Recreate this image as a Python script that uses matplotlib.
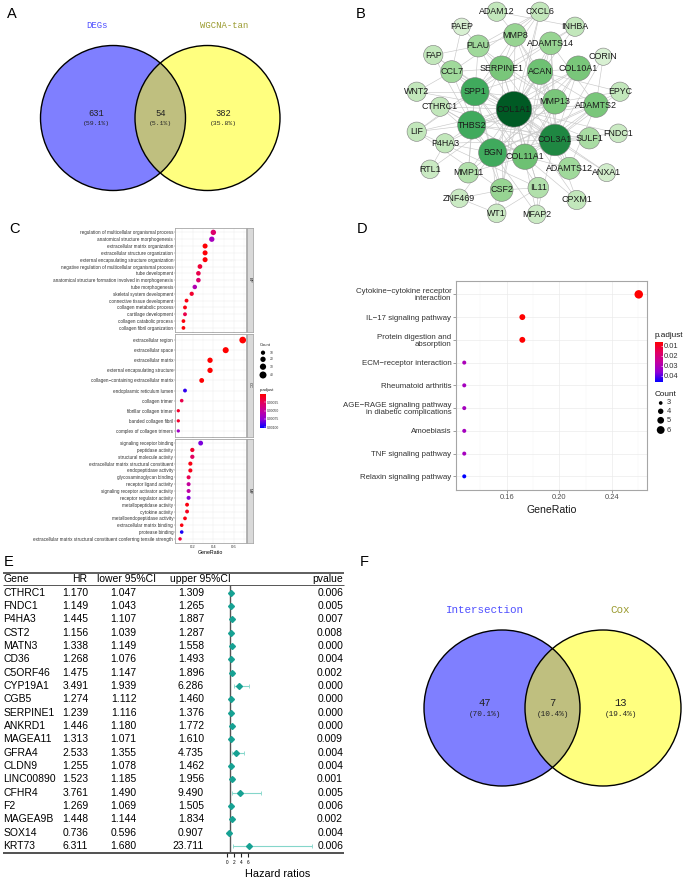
import numpy as np
import matplotlib
matplotlib.use("Agg")
import matplotlib.pyplot as plt
import matplotlib.cm as cm
from matplotlib.patches import Circle
from matplotlib.colors import LinearSegmentedColormap, Normalize

W, H = 685, 881
plt.rcParams['font.family'] = ['Liberation Sans', 'DejaVu Sans']

# ---------------- data ----------------
# A / F venn: left only, both, right only
venn_a_names = ["DEGs", "WGCNA-tan"]
venn_a_counts = [631, 54, 382]
venn_f_names = ["Intersection", "Cox"]
venn_f_counts = [47, 7, 13]

net_genes = ["COL1A1", "COL3A1", "SPP1", "THBS2", "BGN", "COL11A1", "ACAN", "SERPINE1",
             "MMP13", "COL10A1", "ADAMTS2", "MMP8", "PLAU", "ADAMTS14", "CCL7", "SULF1",
             "ADAMTS12", "CSF2", "IL11", "MMP11", "CTHRC1", "P4HA3", "LIF", "FAP", "WNT2",
             "EPYC", "FNDC1", "CPXM1", "MFAP2", "RTL1", "ANXA1", "INHBA", "CXCL6", "ADAM12",
             "PAEP", "CORIN", "ZNF469", "WT1"]
net_degree = [30, 24, 19, 19, 19, 15, 15, 14, 14, 14, 14, 11, 10, 11, 10, 9,
              10, 11, 8, 8, 6, 6, 6, 6, 6, 6, 5, 6, 5, 5, 4, 6, 6, 6, 3, 3, 5, 5]
net_links = {
    "COL1A1": ["COL3A1", "SPP1", "THBS2", "BGN", "COL11A1", "ACAN", "MMP13", "SERPINE1",
               "COL10A1", "ADAMTS2", "MMP8", "PLAU", "ADAMTS14", "CCL7", "SULF1", "ADAMTS12",
               "CSF2", "IL11", "MMP11", "CTHRC1", "P4HA3", "LIF", "FAP", "WNT2", "EPYC",
               "FNDC1", "CPXM1", "MFAP2", "ANXA1", "INHBA", "CXCL6", "RTL1"],
    "COL3A1": ["SPP1", "THBS2", "BGN", "COL11A1", "ACAN", "MMP13", "SERPINE1", "COL10A1",
               "ADAMTS2", "ADAMTS14", "SULF1", "ADAMTS12", "CTHRC1", "P4HA3", "FAP", "EPYC",
               "FNDC1", "CPXM1", "MFAP2", "MMP8", "ANXA1", "CORIN"],
    "SPP1": ["THBS2", "BGN", "SERPINE1", "MMP13", "CCL7", "CSF2", "IL11", "LIF", "MMP8",
             "PLAU", "ACAN", "COL11A1", "WNT2", "MMP11", "INHBA"],
    "THBS2": ["BGN", "COL11A1", "SERPINE1", "COL10A1", "MMP13", "CTHRC1", "P4HA3", "SULF1",
              "ADAMTS2", "FAP", "MMP11", "LIF"],
    "BGN": ["COL11A1", "ACAN", "MMP13", "COL10A1", "ADAMTS2", "EPYC", "SULF1", "P4HA3",
            "CTHRC1", "MFAP2", "WT1", "ZNF469"],
    "COL11A1": ["COL10A1", "ACAN", "MMP13", "ADAMTS2", "ADAMTS12", "ADAMTS14", "CTHRC1",
                "MMP11", "CPXM1"],
    "ACAN": ["MMP13", "COL10A1", "ADAMTS14", "ADAMTS12", "MMP8", "EPYC", "ADAMTS2"],
    "MMP13": ["COL10A1", "MMP8", "MMP11", "SERPINE1", "PLAU", "ADAMTS14"],
    "SERPINE1": ["PLAU", "CCL7", "CSF2", "IL11", "LIF", "INHBA", "MMP8", "CXCL6"],
    "CSF2": ["IL11", "LIF", "CCL7", "CXCL6", "WT1", "ZNF469"],
    "PLAU": ["MMP8", "CXCL6", "PAEP", "FAP"],
    "IL11": ["LIF", "MFAP2", "WT1"],
    "ADAMTS2": ["ADAMTS14", "ADAMTS12", "CORIN"],
    "CCL7": ["CXCL6", "WNT2", "PAEP"],
    "MMP8": ["ADAM12", "CXCL6"],
    "ADAMTS12": ["ANXA1"],
    "WT1": ["ZNF469"],
    "RTL1": ["P4HA3"],
    "ADAM12": ["INHBA"],
}
# network layout (pixel positions of the nodes)
net_layout = {
    "ADAM12": (496.7, 11.7), "CXCL6": (540, 11.7), "PAEP": (461.7, 26.7), "INHBA": (575, 26.7),
    "MMP8": (515, 35), "PLAU": (478.3, 46), "ADAMTS14": (550.7, 43.3), "FAP": (433.3, 55),
    "CORIN": (603.3, 56.7), "CCL7": (451.7, 71.7), "SERPINE1": (501.7, 68.3), "ACAN": (540, 71.7),
    "COL10A1": (578.3, 68.3), "WNT2": (416.7, 91.7), "SPP1": (475, 91.7), "EPYC": (620, 91.7),
    "CTHRC1": (440, 106.7), "COL1A1": (514, 109.3), "MMP13": (555, 101.7), "ADAMTS2": (596, 105),
    "LIF": (416.7, 131.7), "THBS2": (471.7, 125), "P4HA3": (445, 143.3), "COL3A1": (555, 140),
    "SULF1": (589.3, 138.3), "FNDC1": (618.3, 133.3), "BGN": (492.7, 152.7), "COL11A1": (525, 156.7),
    "RTL1": (430, 169.3), "MMP11": (468.3, 172.7), "ADAMTS12": (569.3, 168.3), "ANXA1": (606.7, 172.7),
    "CSF2": (501.7, 190), "IL11": (538.3, 187.7), "ZNF469": (459.3, 198.3), "CPXM1": (576.7, 200),
    "WT1": (496.7, 213.3), "MFAP2": (536.7, 214.3),
}

# C: GO enrichment
bp_terms = ["regulation of multicellular organismal process", "anatomical structure morphogenesis",
            "extracellular matrix organization", "extracellular structure organization",
            "external encapsulating structure organization",
            "negative regulation of multicellular organismal process", "tube development",
            "anatomical structure formation involved in morphogenesis", "tube morphogenesis",
            "skeletal system development", "connective tissue development",
            "collagen metabolic process", "cartilage development", "collagen catabolic process",
            "collagen fibril organization"]
bp_ratio = [0.40, 0.385, 0.32, 0.32, 0.32, 0.27, 0.255, 0.255, 0.22, 0.19, 0.14, 0.125, 0.125, 0.11, 0.11]
bp_count = [21, 20, 17, 17, 17, 14, 13, 13, 12, 10, 7, 7, 7, 6, 6]
bp_padj = [0.00030, 0.00065, 0.00001, 0.00002, 0.00002, 0.00015, 0.00020, 0.00032, 0.00060,
           0.00012, 0.00005, 0.00005, 0.00020, 0.00003, 0.00002]

cc_terms = ["extracellular region", "extracellular space", "extracellular matrix",
            "external encapsulating structure", "collagen\u2212containing extracellular matrix",
            "endoplasmic reticulum lumen", "collagen trimer", "fibrillar collagen trimer",
            "banded collagen fibril", "complex of collagen trimers"]
cc_ratio = [0.685, 0.52, 0.368, 0.368, 0.287, 0.125, 0.093, 0.06, 0.06, 0.06]
cc_count = [36, 28, 20, 20, 15, 7, 5, 3, 3, 3]
cc_padj = [0.000001, 0.000002, 0.000003, 0.000003, 0.00001, 0.00093, 0.00020, 0.00012, 0.00012, 0.00068]

mf_terms = ["signaling receptor binding", "peptidase activity", "structural molecule activity",
            "extracellular matrix structural constituent", "endopeptidase activity",
            "glycosaminoglycan binding", "receptor ligand activity",
            "signaling receptor activator activity", "receptor regulator activity",
            "metallopeptidase activity", "cytokine activity", "metalloendopeptidase activity",
            "extracellular matrix binding", "protease binding",
            "extracellular matrix structural constituent conferring tensile strength"]
mf_ratio = [0.277, 0.196, 0.196, 0.177, 0.177, 0.16, 0.16, 0.16, 0.16, 0.145, 0.145, 0.125, 0.093, 0.093, 0.077]
mf_count = [15, 10, 10, 9, 9, 8, 8, 8, 8, 7, 7, 6, 5, 5, 4]
mf_padj = [0.00080, 0.00012, 0.00026, 0.00005, 0.00007, 0.00022, 0.00050, 0.00053, 0.00078,
           0.00004, 0.00008, 0.00005, 0.00004, 0.00098, 0.00016]

# D: KEGG enrichment
kegg_terms = ["Cytokine\u2212cytokine receptor\ninteraction", "IL\u221217 signaling pathway",
              "Protein digestion and\nabsorption", "ECM\u2212receptor interaction",
              "Rheumatoid arthritis", "AGE\u2212RAGE signaling pathway\nin diabetic complications",
              "Amoebiasis", "TNF signaling pathway", "Relaxin signaling pathway"]
kegg_ratio = [0.2603, 0.1719, 0.1719, 0.1278, 0.1278, 0.1278, 0.1278, 0.1278, 0.1278]
kegg_count = [6, 4, 4, 3, 3, 3, 3, 3, 3]
kegg_padj = [0.004, 0.006, 0.006, 0.031, 0.032, 0.032, 0.032, 0.032, 0.0467]

# E: univariate Cox
cox_genes = ["CTHRC1", "FNDC1", "P4HA3", "CST2", "MATN3", "CD36", "C5ORF46", "CYP19A1", "CGB5",
             "SERPINE1", "ANKRD1", "MAGEA11", "GFRA4", "CLDN9", "LINC00890", "CFHR4", "F2",
             "MAGEA9B", "SOX14", "KRT73"]
cox_hr = [1.170, 1.149, 1.445, 1.156, 1.338, 1.268, 1.475, 3.491, 1.274, 1.239, 1.446, 1.313,
          2.533, 1.255, 1.523, 3.761, 1.269, 1.448, 0.736, 6.311]
cox_lower = [1.047, 1.043, 1.107, 1.039, 1.149, 1.076, 1.147, 1.939, 1.112, 1.116, 1.180, 1.071,
             1.355, 1.078, 1.185, 1.490, 1.069, 1.144, 0.596, 1.680]
cox_upper = [1.309, 1.265, 1.887, 1.287, 1.558, 1.493, 1.896, 6.286, 1.460, 1.376, 1.772, 1.610,
             4.735, 1.462, 1.956, 9.490, 1.505, 1.834, 0.907, 23.711]
cox_p = [0.006, 0.005, 0.007, 0.008, 0.000, 0.004, 0.002, 0.000, 0.000, 0.000, 0.000, 0.009,
         0.004, 0.004, 0.001, 0.005, 0.006, 0.002, 0.004, 0.006]


def rect(l, t, r, b):
    return [l / W, 1 - b / H, (r - l) / W, (b - t) / H]


cmap_padj = LinearSegmentedColormap.from_list(
    "padj", ["#ff0000", "#e3005f", "#c3009f", "#8f00d6", "#0000ff"])

fig = plt.figure(figsize=(6.85, 8.81), dpi=100)
page = fig.add_axes([0, 0, 1, 1])
page.set_xlim(0, W)
page.set_ylim(H, 0)
page.axis('off')

# panel letters
for lab, x, y in [("A", 12, 14), ("B", 361, 14), ("C", 15, 229), ("D", 362, 229),
                  ("E", 9, 562), ("F", 364, 562)]:
    page.text(x, y, lab, fontsize=10.5, ha='center', va='center')


# ---------------- Venn (A, F) ----------------
def venn(counts, names, cl, cr, cy, r, fs_name, fs_num, fs_pct, dy):
    total = sum(counts)
    page.add_patch(Circle((cl, cy), r, fc=(0, 0, 1, 0.5), ec='none'))
    page.add_patch(Circle((cr, cy), r, fc=(1, 1, 0, 0.5), ec='none'))
    for c in (cl, cr):
        page.add_patch(Circle((c, cy), r, fc='none', ec='black', lw=1.0))
    xs = [cl - 0.225 * r, (cl + cr) / 2, cr + 0.225 * r]
    for x, n in zip(xs, counts):
        page.text(x, cy - dy, str(n), fontsize=fs_num, ha='center', va='center',
                  family='Liberation Mono', color='#222222')
        page.text(x, cy + dy + 1, "(%.1f%%)" % (100.0 * n / total), fontsize=fs_pct,
                  ha='center', va='center', family='Liberation Mono', color='#222222')
    page.text(xs[0], cy - r - 20, names[0], fontsize=fs_name, ha='center', va='center',
              family='Liberation Mono', color='#4f4fff')
    page.text(xs[2], cy - r - 20, names[1], fontsize=fs_name, ha='center', va='center',
              family='Liberation Mono', color='#9a9a2e')


venn(venn_a_counts, venn_a_names, 113, 207.5, 118, 72.5, 6.4, 6.3, 4.6, 4.5)
venn(venn_f_counts, venn_f_names, 502, 603, 708, 78, 7.8, 7.6, 5.6, 5.5)

# ---------------- B: network ----------------
deg = dict(zip(net_genes, net_degree))
for a, nbrs in net_links.items():
    for b in nbrs:
        (x1, y1), (x2, y2) = net_layout[a], net_layout[b]
        page.plot([x1, x2], [y1, y2], color='#c9c9c9', lw=0.45, zorder=1)
greens = plt.get_cmap('Greens')
for g in net_genes:
    x, y = net_layout[g]
    d = deg[g]
    page.add_patch(Circle((x, y), 7.6 + 0.34 * d, fc=greens(0.10 + 0.83 * d / 30.0),
                          ec='#7d7d7d', lw=0.4, zorder=2))
    page.text(x, y, g, fontsize=6.4, ha='center', va='center', color='#1a1a1a', zorder=3)


# ---------------- C: GO dot plot ----------------
def c_size(count):
    d = np.sqrt(7.8 + 1.03 * np.asarray(count, dtype=float))
    return (d * 0.72) ** 2


normC = Normalize(0.0, 0.00102)
facets = [("BP", bp_terms, bp_ratio, bp_count, bp_padj, 228.3, 332.0),
          ("CC", cc_terms, cc_ratio, cc_count, cc_padj, 334.0, 437.0),
          ("MF", mf_terms, mf_ratio, mf_count, mf_padj, 439.0, 543.0)]
for i, (name, terms, ratio, count, padj, top, bot) in enumerate(facets):
    ax = fig.add_axes(rect(175, top, 246, bot))
    y = np.arange(1, len(terms) + 1)
    ax.scatter(ratio, y, s=c_size(count), c=padj, cmap=cmap_padj, norm=normC,
               linewidths=0, zorder=3)
    ax.set_xlim(0.028, 0.717)
    ax.set_ylim(len(terms) + 0.6, 0.4)
    ax.set_yticks(y)
    ax.set_yticklabels(terms, fontsize=3.3, color='#333333')
    ax.set_xticks([0.2, 0.4, 0.6])
    ax.set_xticks([0.1, 0.3, 0.5, 0.7], minor=True)
    ax.grid(which='major', color='#ebebeb', lw=0.35)
    ax.grid(which='minor', axis='x', color='#f3f3f3', lw=0.25)
    ax.set_axisbelow(True)
    ax.tick_params(which='both', length=0.8, width=0.3, pad=0.5, color='#555555')
    ax.tick_params(which='minor', length=0)
    for s in ax.spines.values():
        s.set_color('#a6a6a6')
        s.set_linewidth(0.6)
    if i < 2:
        ax.set_xticklabels([])
    else:
        ax.set_xticklabels(["0.2", "0.4", "0.6"], fontsize=3.0, color='#333333')
        ax.set_xlabel("GeneRatio", fontsize=3.8, labelpad=1.2)
    sx = fig.add_axes(rect(246.6, top, 253, bot))
    sx.set_facecolor('#d9d9d9')
    sx.set_xticks([])
    sx.set_yticks([])
    for s in sx.spines.values():
        s.set_color('#a6a6a6')
        s.set_linewidth(0.6)
    sx.text(0.5, 0.5, name, rotation=270, fontsize=3.0, ha='center', va='center',
            transform=sx.transAxes, color='#1a1a1a')

# C legends
page.text(259.3, 345, "Count", fontsize=3.0, ha='left', va='center', color='#1a1a1a')
c_leg = [10, 20, 30, 40]
c_leg_y = [352.7, 359.3, 366.7, 375.0]
page.scatter([263] * 4, c_leg_y, s=c_size(c_leg), color='black', linewidths=0, zorder=3)
for v, yy in zip(c_leg, c_leg_y):
    page.text(270, yy, str(v), fontsize=2.4, ha='left', va='center', color='#333333')
page.text(259.3, 390, "p.adjust", fontsize=3.0, ha='left', va='center', color='#1a1a1a')
caxC = fig.add_axes(rect(260, 394, 266, 428))
cbC = fig.colorbar(cm.ScalarMappable(norm=normC, cmap=cmap_padj), cax=caxC)
caxC.invert_yaxis()
cbC.outline.set_visible(False)
cbC.set_ticks([0.00025, 0.0005, 0.00075, 0.001])
cbC.set_ticklabels(["0.00025", "0.00050", "0.00075", "0.00100"])
caxC.tick_params(length=1.2, width=0.3, color='white', labelsize=2.4, pad=0.8,
                 labelcolor='#333333', direction='in')


# ---------------- D: KEGG dot plot ----------------
def d_size(count):
    d = np.sqrt(18.7 * np.asarray(count, dtype=float) - 40.0)
    return (d * 0.72) ** 2


normD = Normalize(0.0057, 0.0467)
axD = fig.add_axes(rect(455.7, 280.7, 647.3, 490))
yk = np.arange(1, len(kegg_terms) + 1)
axD.scatter(kegg_ratio, yk, s=d_size(kegg_count), c=kegg_padj, cmap=cmap_padj, norm=normD,
            linewidths=0, zorder=3)
axD.set_xlim(0.1213, 0.2668)
axD.set_ylim(len(kegg_terms) + 0.6, 0.4)
axD.set_yticks(yk)
axD.set_yticklabels(kegg_terms, fontsize=5.7, color='#333333', linespacing=0.95)
axD.set_xticks([0.16, 0.20, 0.24])
axD.set_xticklabels(["0.16", "0.20", "0.24"], fontsize=5.4, color='#4d4d4d')
axD.set_xticks([0.14, 0.18, 0.22, 0.26], minor=True)
axD.grid(which='major', color='#ebebeb', lw=0.5)
axD.grid(which='minor', axis='x', color='#f4f4f4', lw=0.35)
axD.set_axisbelow(True)
axD.tick_params(which='major', length=2, width=0.4, pad=1.2, color='#555555')
axD.tick_params(which='minor', length=0)
for s in axD.spines.values():
    s.set_color('#a6a6a6')
    s.set_linewidth(0.8)
axD.set_xlabel("GeneRatio", fontsize=7.6, labelpad=2.5, color='#1a1a1a')

page.text(655, 335.7, "p.adjust", fontsize=5.9, ha='left', va='center', color='#1a1a1a')
caxD = fig.add_axes(rect(655, 341.7, 662.7, 382.3))
cbD = fig.colorbar(cm.ScalarMappable(norm=normD, cmap=cmap_padj), cax=caxD)
caxD.invert_yaxis()
cbD.outline.set_visible(False)
cbD.set_ticks([0.01, 0.02, 0.03, 0.04])
cbD.set_ticklabels(["0.01", "0.02", "0.03", "0.04"])
caxD.tick_params(length=1.8, width=0.4, color='white', labelsize=5.4, pad=1.0,
                 labelcolor='#333333', direction='in')
page.text(655, 394.3, "Count", fontsize=5.9, ha='left', va='center', color='#1a1a1a')
d_leg = [3, 4, 5, 6]
d_leg_y = [403, 411.3, 420.3, 430]
page.scatter([660.7] * 4, d_leg_y, s=d_size(d_leg) * 0.85, color='black', linewidths=0, zorder=3)
for v, yy in zip(d_leg, d_leg_y):
    page.text(667, yy, str(v), fontsize=5.4, ha='left', va='center', color='#333333')

# ---------------- E: Cox forest table ----------------
row0, row_h = 592.7, 13.33
axE = fig.add_axes(rect(0, 565, 345, 881))
axE.set_facecolor('none')
axE.set_xlim(0, 345)
axE.set_ylim((881 - row0) / row_h, (565 - row0) / row_h)
axE.axis('off')
rows = np.arange(len(cox_genes))
fs_t = 7.5
axE.text(3.5, -1, "Gene", fontsize=fs_t, ha='left', va='center')
axE.text(87.5, -1, "HR", fontsize=fs_t, ha='right', va='center')
axE.text(126.7, -1, "lower 95%CI", fontsize=fs_t, ha='center', va='center')
axE.text(200.5, -1, "upper 95%CI", fontsize=fs_t, ha='center', va='center')
axE.text(343, -1, "pvalue", fontsize=fs_t, ha='right', va='center')
for r_, g, hr, lo, up, p in zip(rows, cox_genes, cox_hr, cox_lower, cox_upper, cox_p):
    axE.text(3.5, r_, g, fontsize=fs_t, ha='left', va='center')
    axE.text(88.3, r_, "%.3f" % hr, fontsize=fs_t, ha='right', va='center')
    axE.text(136.7, r_, "%.3f" % lo, fontsize=fs_t, ha='right', va='center')
    axE.text(204, r_, "%.3f" % up, fontsize=fs_t, ha='right', va='center')
    axE.text(343, r_, "%.3f" % p, fontsize=fs_t, ha='right', va='center')
axE.hlines((573.3 - row0) / row_h, 2.5, 344, color='#333333', lw=1.1)
axE.hlines((585.0 - row0) / row_h, 2.5, 344, color='#555555', lw=0.7)
axE.hlines((853.3 - row0) / row_h, 2.5, 344, color='#222222', lw=1.1)
axE.text(245, (874 - row0) / row_h, "Hazard ratios", fontsize=7.8, ha='left', va='center')

axF = fig.add_axes(rect(215, 565, 330, 881))
axF.set_facecolor('none')
axF.set_xlim((215 - 226.7) / 3.6, (330 - 226.7) / 3.6)
axF.set_ylim(axE.get_ylim())
hr = np.array(cox_hr)
axF.errorbar(hr, rows, xerr=[hr - np.array(cox_lower), np.array(cox_upper) - hr], fmt='D',
             ms=3.0, mfc='#17a193', mec='#17a193', ecolor='#84d6ca', elinewidth=0.8,
             capsize=1.3, capthick=0.6, zorder=3)
axF.vlines(1, (585.0 - row0) / row_h, (853.3 - row0) / row_h, color='#555555', lw=1.0, zorder=2)
for s in ['top', 'left', 'right']:
    axF.spines[s].set_visible(False)
axF.spines['bottom'].set_position(('data', (853.3 - row0) / row_h))
axF.spines['bottom'].set_visible(False)
axF.set_yticks([])
axF.set_xticks([0, 2, 4, 6])
axF.tick_params(axis='x', direction='out', length=3.0, width=0.8, color='#222222',
                labelsize=3.4, pad=1.5)

fig.savefig("out.png", dpi=100)
